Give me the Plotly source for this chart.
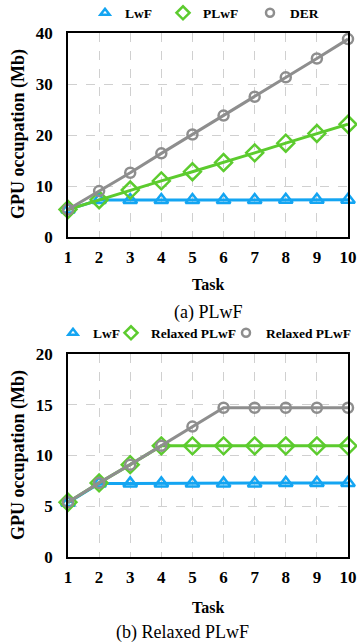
import plotly.graph_objects as go

tasks = [1, 2, 3, 4, 5, 6, 7, 8, 9, 10]

# (a) PLwF
lwf_a = [5.4, 7.25, 7.25, 7.25, 7.25, 7.25, 7.25, 7.3, 7.3, 7.3]
plwf_a = [5.4, 7.3, 9.2, 11.0, 12.8, 14.6, 16.5, 18.4, 20.3, 22.1]
der_a = [5.4, 9.0, 12.6, 16.4, 20.1, 23.8, 27.5, 31.3, 35.0, 38.8]

# (b) Relaxed PLwF
lwf_b = [5.35, 7.25, 7.25, 7.25, 7.25, 7.25, 7.25, 7.3, 7.3, 7.3]
rplwf_b = [5.4, 7.3, 9.1, 10.95, 10.95, 10.95, 10.95, 10.95, 10.95, 10.95]
rplwf2_b = [5.4, 7.3, 9.1, 10.95, 12.85, 14.7, 14.7, 14.7, 14.7, 14.7]

names_a = ["LwF", "PLwF", "DER"]
names_b = ["LwF", "Relaxed PLwF", "Relaxed PLwF"]
yticks_a = [0, 10, 20, 30, 40]
yticks_b = [0, 5, 10, 15, 20]

BLUE = "#14A5F2"
GREEN = "#5CCB2E"
GRAY = "#8E8E8E"
colors = [BLUE, GREEN, GRAY]
symbols = ["triangle-up-open", "diamond-open", "circle-open"]
sizes = [12, 13, 10]
legend_sizes = [8, 10, 8]

W, H = 357, 643
FONT = "Liberation Serif"

def py(p):
    return 1 - p / H

def px(p):
    return p / W

fig = go.Figure()

def add_panel(series, names, xa, ya, legends):
    for vals, name, c, s, sz, lsz, lg in zip(series, names, colors, symbols, sizes,
                                             legend_sizes, legends):
        fig.add_trace(go.Scatter(
            x=tasks, y=vals, mode="lines+markers", name=name,
            line=dict(color=c, width=3),
            marker=dict(symbol=s, size=sz, color=c, line=dict(color=c, width=2.5)),
            xaxis=xa, yaxis=ya, showlegend=False, cliponaxis=False,
        ))
        fig.add_trace(go.Scatter(
            x=[None], y=[None], mode="markers", name=name,
            marker=dict(symbol=s, size=lsz, color=c, line=dict(color=c, width=2.5)),
            xaxis=xa, yaxis=ya, showlegend=True, legend=lg,
        ))

add_panel([lwf_a, plwf_a, der_a], names_a, "x", "y", ["legend", "legend2", "legend3"])
add_panel([lwf_b, rplwf_b, rplwf2_b], names_b, "x2", "y2", ["legend4", "legend5", "legend6"])

xdom = [px(68), px(348)]
axis_common = dict(
    showline=True, linecolor="black", linewidth=1.5, mirror=True,
    showgrid=True, gridcolor="#D0D0D0", griddash="dash", gridwidth=1,
    zeroline=False, ticks="", automargin=False,
    tickfont=dict(family=FONT, size=17, color="black", weight="bold"),
)

def leg(text_x, cy):
    return dict(orientation="h", x=px(text_x - 37), y=py(cy), xanchor="left", yanchor="middle",
                font=dict(family=FONT, size=13.5, weight="bold", color="black"),
                bgcolor="rgba(0,0,0,0)", itemwidth=30, borderwidth=0)

fig.update_layout(
    width=W, height=H, margin=dict(l=0, r=0, t=0, b=0, autoexpand=False),
    plot_bgcolor="white", paper_bgcolor="white",
    font=dict(family=FONT, color="black"),
    xaxis=dict(domain=xdom, range=[1, 10], tickvals=tasks, anchor="y",
               ticklabelstandoff=4, **axis_common),
    yaxis=dict(domain=[py(237), py(33)], range=[0, 40], tickvals=yticks_a, anchor="x",
               ticklabelstandoff=10, **axis_common),
    xaxis2=dict(domain=xdom, range=[1, 10], tickvals=tasks, anchor="y2",
                ticklabelstandoff=4, **axis_common),
    yaxis2=dict(domain=[py(557), py(354)], range=[0, 20], tickvals=yticks_b, anchor="x2",
                ticklabelstandoff=10, **axis_common),
    legend=leg(122, 13), legend2=leg(200, 13), legend3=leg(287, 13),
    legend4=leg(90, 333), legend5=leg(148, 333), legend6=leg(263, 333),
)

ann = []
for cy in (134, 455):
    ann.append(dict(text="GPU occupation (Mb)", x=px(18), y=py(cy), xref="paper", yref="paper",
                    xanchor="center", yanchor="middle",
                    showarrow=False, textangle=-90,
                    font=dict(family=FONT, size=18, weight="bold", color="black")))
for cy in (285, 607):
    ann.append(dict(text="Task", x=px(208), y=py(cy), xref="paper", yref="paper",
                    xanchor="center", yanchor="middle", showarrow=False,
                    font=dict(family=FONT, size=16, weight="bold", color="black")))
ann.append(dict(text="(a) PLwF", x=px(208), y=py(312), xref="paper", yref="paper",
                xanchor="center", yanchor="middle",
                showarrow=False, font=dict(family=FONT, size=18, color="black")))
ann.append(dict(text="(b) Relaxed PLwF", x=px(182), y=py(632), xref="paper", yref="paper",
                xanchor="center", yanchor="middle",
                showarrow=False, font=dict(family=FONT, size=18, color="black")))
fig.update_layout(annotations=ann)

fig.write_html("out.html")
